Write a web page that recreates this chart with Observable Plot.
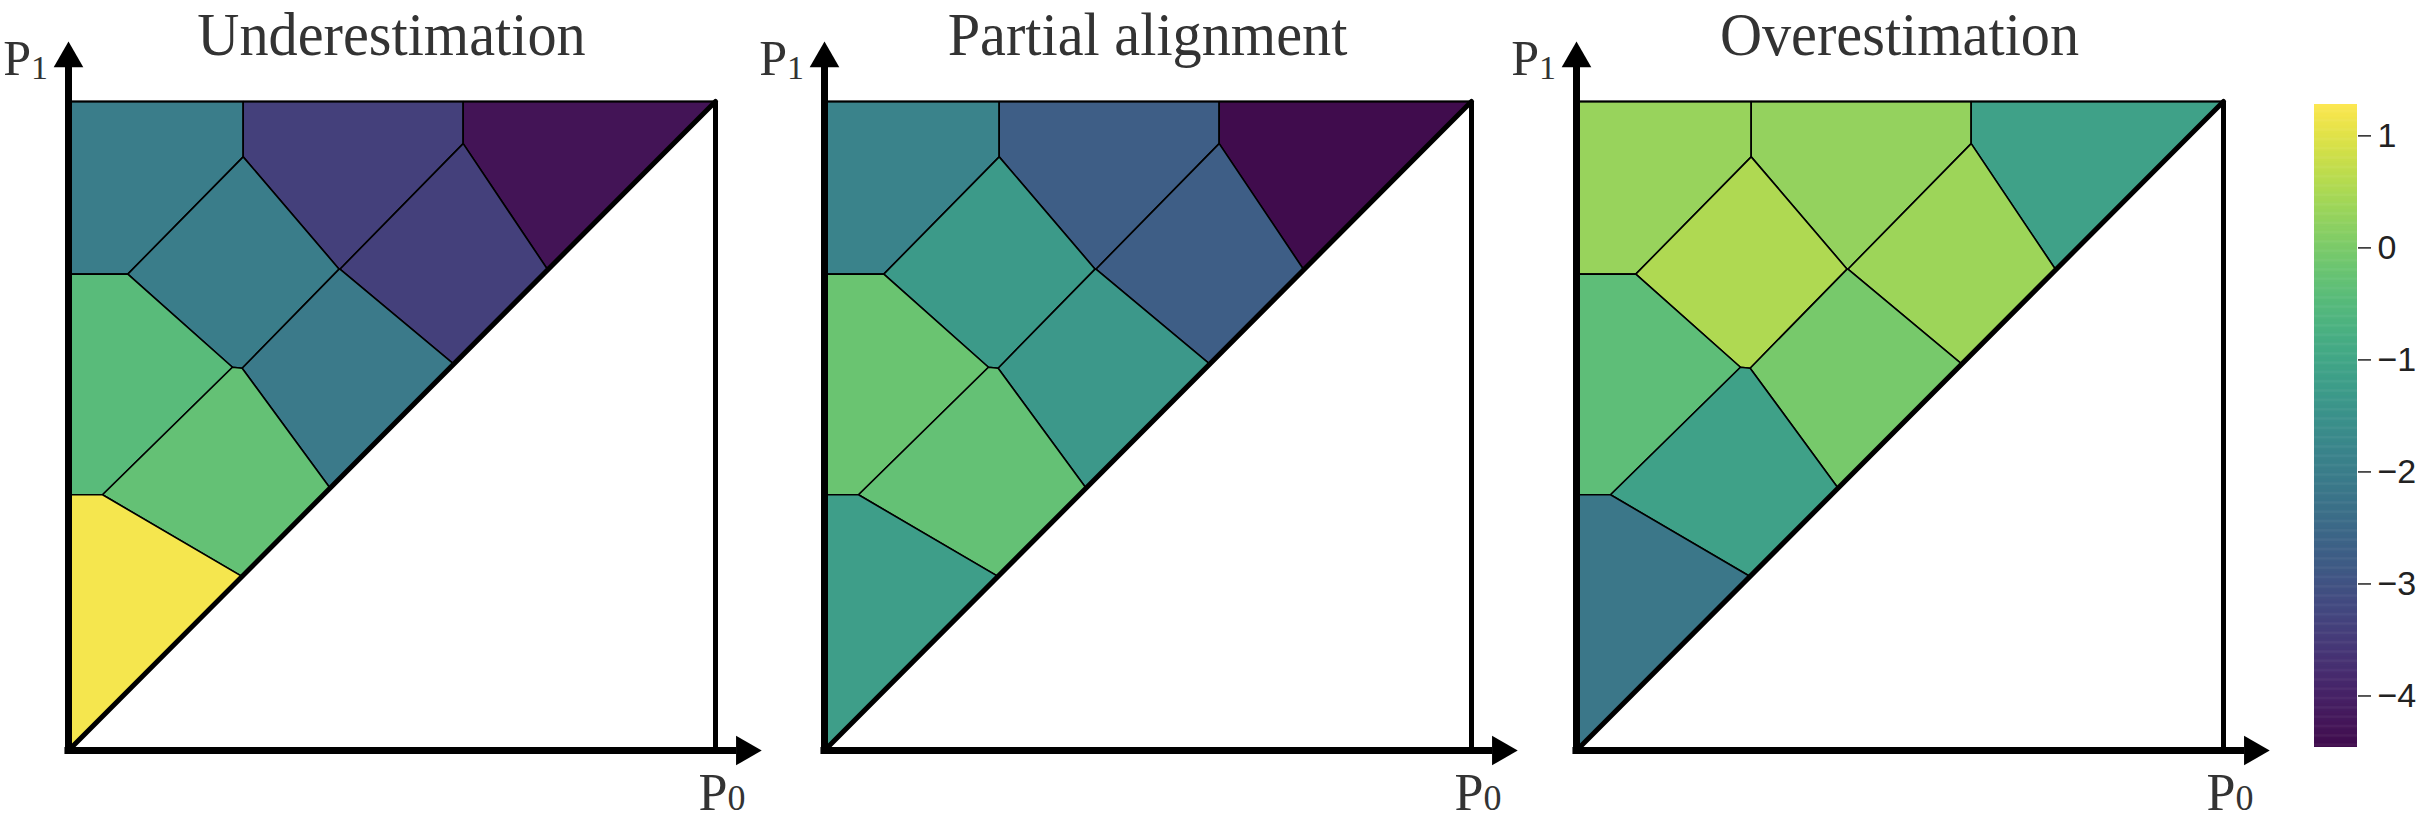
<!DOCTYPE html>
<html><head><meta charset="utf-8">
<script src="https://cdn.jsdelivr.net/npm/d3@7"></script>
<script src="https://cdn.jsdelivr.net/npm/@observablehq/plot@0.6"></script>
<style>
html,body{margin:0;padding:0;background:#fff;}
#root{position:relative;width:2426px;height:821px;overflow:hidden;background:#fff;}
#root svg{position:absolute;top:0;}
</style></head><body><div id="root"></div>
<script>
// Voronoi seed points (P0, P1) of the nine cells
const cellNames = ["TL","TM","TR","TD","BR","GL","TLo","LG","Y"];
const seedX = [0.10, 0.44, 0.78, 0.258, 0.578, 0.10, 0.425, 0.228, 0.10];
const seedY = [0.90, 0.90, 0.90, 0.745, 0.765, 0.568, 0.582, 0.438, 0.22];
// cell values for each panel
const underValues   = [-2.0, -3.4, -4.3, -2.0, -3.4, -0.45, -2.1, -0.3, 1.2];
const partialValues = [-1.85, -2.75, -4.46, -1.3, -2.75, -0.2, -1.36, -0.3, -1.22];
const overValues    = [0.30, 0.25, -1.13, 0.53, 0.35, -0.4, -0.05, -1.13, -2.16];
const panelTitles = ["Underestimation", "Partial alignment", "Overestimation"];
const colorTicks = [1, 0, -1, -2, -3, -4];
const colorDomain = [-4.46, 1.28];

// viridis, slightly muted as in the reference rendering
const mutedViridis = t => { const c = d3.hcl(d3.interpolateViridis(t)); c.c *= 0.85; return c.formatHex(); };

const root = document.getElementById("root");
const frameLefts = [68, 823.5, 1575.5];
const FW = 647, FH = 649, FT = 101;
const ML = 68, MR = 70, MB = 821 - FT - FH;
const serif = "'Liberation Serif', 'Times New Roman', Times, serif";

function panel(values, title, left) {
  const data = seedX.map((x, i) => ({name: cellNames[i], x, y: seedY[i], v: values[i]}));
  const svg = Plot.plot({
    width: ML + FW + MR, height: 821,
    marginLeft: ML, marginRight: MR, marginTop: FT, marginBottom: MB,
    x: {domain: [0, 1], axis: null},
    y: {domain: [0, 1], axis: null},
    color: {type: "linear", interpolate: mutedViridis, domain: colorDomain},
    style: {background: "transparent", overflow: "visible"},
    marks: [
      Plot.voronoi(data, {x: "x", y: "y", fill: "v", stroke: "black", strokeWidth: 1.6}),
      Plot.areaY([0, 1], {x: d => d, y1: 0, y2: d => d, fill: "white"}),
      Plot.ruleY([1], {x1: 0, x2: 1, stroke: "black", strokeWidth: 1.8}),
      Plot.ruleX([1], {y1: 0, y2: 1, stroke: "black", strokeWidth: 5}),
      Plot.line([0, 1], {x: d => d, y: d => d, stroke: "black", strokeWidth: 5}),
      Plot.ruleX([0], {y1: -0.0055, y2: 1.055, stroke: "black", strokeWidth: 7}),
      Plot.ruleY([0], {x1: -0.0055, x2: 1.033, stroke: "black", strokeWidth: 7}),
      Plot.dot([{x: 0, y: 1.066}], {x: "x", y: "y", symbol: "triangle", r: 11, fill: "black"}),
      Plot.dot([{x: 1.045, y: 0}], {x: "x", y: "y", symbol: "triangle", r: 11, fill: "black", rotate: 90})
    ]
  });
  svg.style.left = (left - ML) + "px";
  const g = d3.select(svg).append("g").attr("font-family", serif).attr("fill", "#333");
  g.append("text")
    .attr("transform", `translate(${ML + FW / 2},55) scale(0.94,1)`)
    .attr("text-anchor", "middle").attr("font-size", 62).text(title);
  const p1 = g.append("text").attr("x", ML - 20).attr("y", 75).attr("text-anchor", "end").attr("font-size", 50);
  p1.append("tspan").text("P");
  p1.append("tspan").attr("font-size", 34).attr("dy", 4).text("1");
  const p0 = g.append("text").attr("x", ML + FW + 7).attr("y", 810).attr("font-size", 52);
  p0.append("tspan").text("P");
  p0.append("tspan").attr("font-size", 36).attr("dy", 0).text("0");
  root.appendChild(svg);
}

panel(underValues, panelTitles[0], frameLefts[0]);
panel(partialValues, panelTitles[1], frameLefts[1]);
panel(overValues, panelTitles[2], frameLefts[2]);

// colour bar
const step = 0.01;
const ramp = d3.range(colorDomain[0], colorDomain[1], step);
const fmt = d => d < 0 ? "\u2212" + (-d) : String(d);
const cb = Plot.plot({
  width: 126, height: 821,
  marginLeft: 14, marginRight: 69, marginTop: 104, marginBottom: 74,
  x: {domain: [0, 1], axis: null},
  y: {domain: colorDomain, axis: null},
  color: {type: "linear", interpolate: mutedViridis, domain: colorDomain},
  style: {background: "transparent", overflow: "visible"},
  marks: [
    Plot.rect(ramp, {x1: 0, x2: 1, y1: d => d, y2: d => Math.min(d + step * 1.5, colorDomain[1]), fill: d => d}),
    Plot.axisY({anchor: "right", ticks: colorTicks, tickSize: 13, tickPadding: 7, fontSize: 34,
      fontFamily: "'Liberation Sans', Arial, Helvetica, sans-serif", tickFormat: fmt, color: "#222", strokeWidth: 1.5, label: null})
  ]
});
cb.style.left = "2300px";
root.appendChild(cb);
</script></body></html>
